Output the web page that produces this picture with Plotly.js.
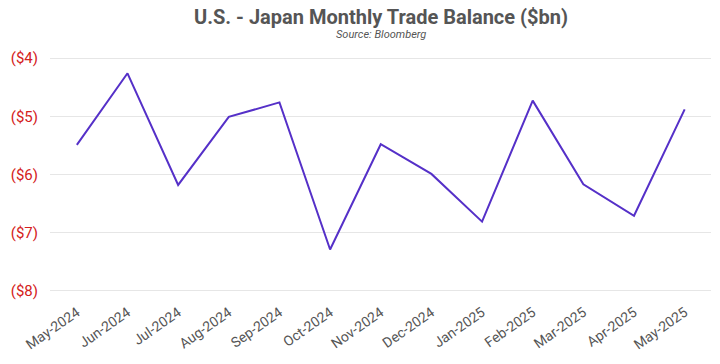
<!DOCTYPE html>
<html>
<head>
<meta charset="utf-8">
<script src="https://cdn.plot.ly/plotly-3.0.1.min.js"></script>
<style>html,body{margin:0;padding:0;background:#fff;}#chart{width:720px;height:364px;}</style>
</head>
<body>
<div id="chart"></div>
<script>
const months = ["May-2024","Jun-2024","Jul-2024","Aug-2024","Sep-2024","Oct-2024","Nov-2024","Dec-2024","Jan-2025","Feb-2025","Mar-2025","Apr-2025","May-2025"];
const balance = [-5.49,-4.26,-6.18,-5.01,-4.76,-7.29,-5.48,-5.99,-6.81,-4.73,-6.17,-6.71,-4.88];
const yTickVals = [-4,-5,-6,-7,-8];
const yTickText = ["($4)","($5)","($6)","($7)","($8)"];

const trace = {
  x: months, y: balance, type: "scatter", mode: "lines",
  line: {color: "#5530c8", width: 2}, hoverinfo: "x+y"
};
const layout = {
  width: 720, height: 364,
  margin: {l: 50, r: 9, t: 57, b: 72},
  paper_bgcolor: "#fff", plot_bgcolor: "#fff",
  font: {family: "Roboto, 'Noto Sans', sans-serif", color: "#555"},
  annotations: [
    {text: "<b>U.S. - Japan Monthly Trade Balance ($bn)</b>", xref: "paper", yref: "paper", x: 0.5, xanchor: "center", y: 1.0, yshift: 40, yanchor: "middle", showarrow: false, font: {size: 20, color: "#555"}},
    {text: "<i>Source: Bloomberg</i>", xref: "paper", yref: "paper", x: 0.5, xanchor: "center", y: 1.0, yshift: 23, yanchor: "middle", showarrow: false, font: {size: 11, color: "#555"}}
  ],
  showlegend: false,
  xaxis: {type: "category", range: [-0.53, 12.52], tickangle: -35, tickfont: {size: 14, color: "#555"}, showgrid: false, zeroline: false, showline: false, ticks: "outside", ticklen: 6, tickcolor: "rgba(0,0,0,0)"},
  yaxis: {range: [-8.02, -3.98], tickvals: yTickVals, ticktext: yTickText, tickfont: {size: 15, color: "#d42020"}, gridcolor: "#e6e6e6", gridwidth: 1, zeroline: false, showline: false, ticks: "outside", ticklen: 8, tickcolor: "rgba(0,0,0,0)"}
};
Plotly.newPlot("chart", [trace], layout, {displayModeBar: false, staticPlot: true});
</script>
</body>
</html>
